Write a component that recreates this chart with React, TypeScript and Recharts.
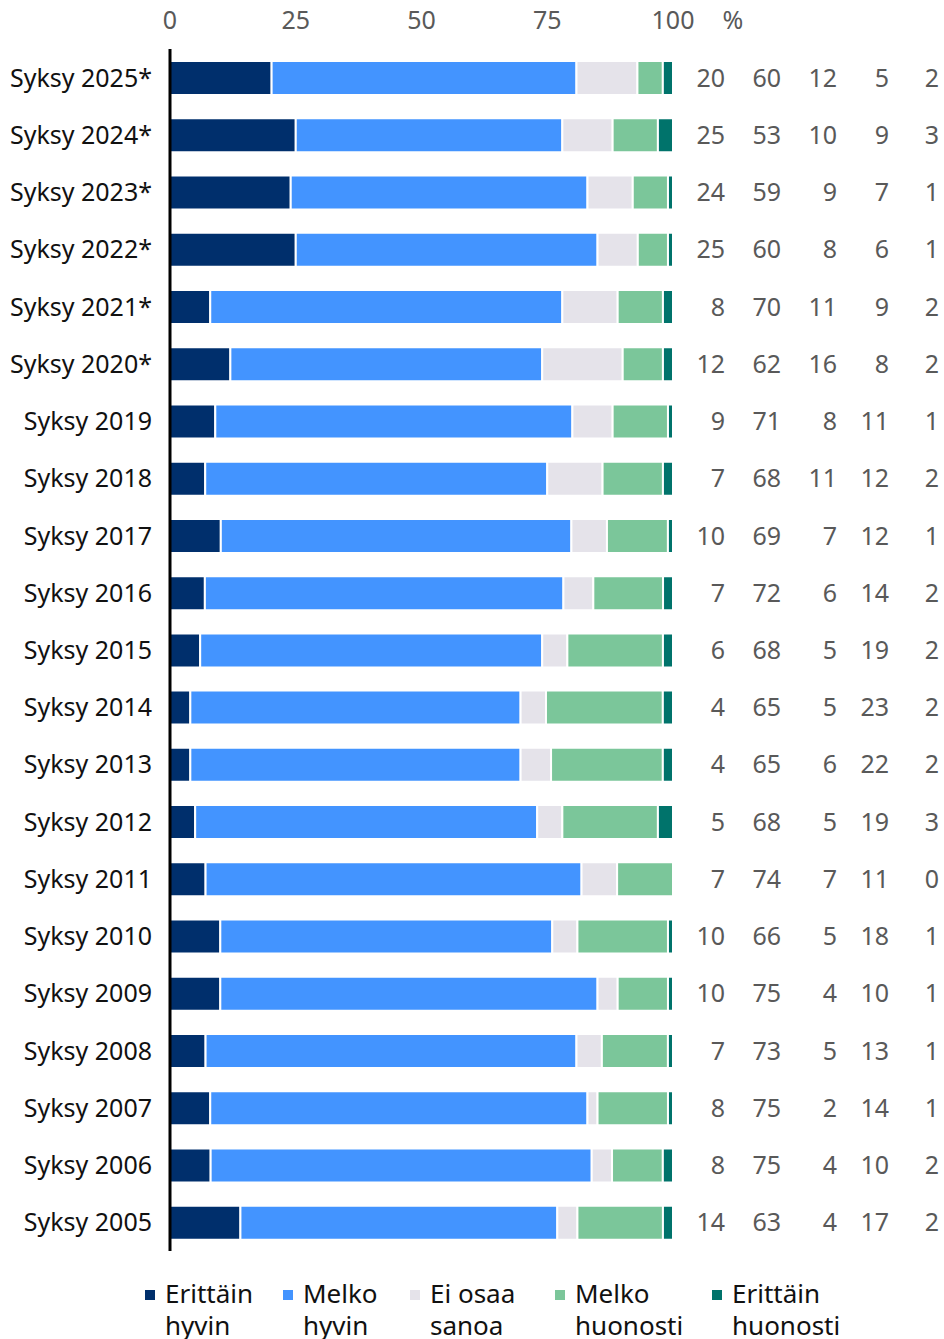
import React from "react";
import { BarChart, Bar, XAxis, YAxis, Legend } from "recharts";

const categories = [
  "Syksy 2025*",
  "Syksy 2024*",
  "Syksy 2023*",
  "Syksy 2022*",
  "Syksy 2021*",
  "Syksy 2020*",
  "Syksy 2019",
  "Syksy 2018",
  "Syksy 2017",
  "Syksy 2016",
  "Syksy 2015",
  "Syksy 2014",
  "Syksy 2013",
  "Syksy 2012",
  "Syksy 2011",
  "Syksy 2010",
  "Syksy 2009",
  "Syksy 2008",
  "Syksy 2007",
  "Syksy 2006",
  "Syksy 2005",
];

const erittainHyvin = [20, 25, 24, 25, 8, 12, 9, 7, 10, 7, 6, 4, 4, 5, 7, 10, 10, 7, 8, 8, 14];
const melkoHyvin = [60, 53, 59, 60, 70, 62, 71, 68, 69, 72, 68, 65, 65, 68, 74, 66, 75, 73, 75, 75, 63];
const eiOsaaSanoa = [12, 10, 9, 8, 11, 16, 8, 11, 7, 6, 5, 5, 6, 5, 7, 5, 4, 5, 2, 4, 4];
const melkoHuonosti = [5, 9, 7, 6, 9, 8, 11, 12, 12, 14, 19, 23, 22, 19, 11, 18, 10, 13, 14, 10, 17];
const erittainHuonosti = [2, 3, 1, 1, 2, 2, 1, 2, 1, 2, 2, 2, 2, 3, 0, 1, 1, 1, 1, 2, 2];

const xTicks = [0, 0.25, 0.5, 0.75, 1];
const xTickLabels = ["0", "25", "50", "75", "100"];

const series = [
  { key: "eh", label: ["Erittäin", "hyvin"], color: "#002f6c", values: erittainHyvin },
  { key: "mh", label: ["Melko", "hyvin"], color: "#4394ff", values: melkoHyvin },
  { key: "eos", label: ["Ei osaa", "sanoa"], color: "#e5e3ea", values: eiOsaaSanoa },
  { key: "mhu", label: ["Melko", "huonosti"], color: "#7bc69a", values: melkoHuonosti },
  { key: "ehu", label: ["Erittäin", "huonosti"], color: "#00736b", values: erittainHuonosti },
];

const data = categories.map((name, i) => {
  const row: Record<string, any> = { name };
  series.forEach((s) => {
    row[s.key] = s.values[i];
  });
  return row;
});

const FONT = '"Noto Sans", sans-serif';
const valueColumnsRight = [725, 781, 837, 889, 939];
const legendX = [145, 283, 410, 555, 712];

const XTick = ({ x, payload }: any) => {
  const idx = xTicks.indexOf(payload.value);
  return (
    <g>
      <text x={x} y={29} textAnchor="middle" fill="#595959" fontSize={25} fontFamily={FONT}>
        {xTickLabels[idx]}
      </text>
      {payload.value === 1 && (
        <text x={x + 60} y={29} textAnchor="middle" fill="#595959" fontSize={25} fontFamily={FONT}>
          %
        </text>
      )}
    </g>
  );
};

const YTick = ({ y, payload }: any) => {
  const row = data.find((r) => r.name === payload.value);
  return (
    <g>
      <text x={152} y={y + 9} textAnchor="end" fill="#111" fontSize={25} fontFamily={FONT}>
        {payload.value}
      </text>
      {row &&
        series.map((s, i) => (
          <text
            key={s.key}
            x={valueColumnsRight[i]}
            y={y + 9}
            textAnchor="end"
            fill="#595959"
            fontSize={25}
            fontFamily={FONT}
          >
            {row[s.key]}
          </text>
        ))}
    </g>
  );
};

const LegendContent = () => (
  <div style={{ position: "relative", width: 944, height: 62, fontFamily: FONT }}>
    {series.map((s, i) => (
      <div key={s.key} style={{ position: "absolute", left: legendX[i], top: 0 }}>
        <div
          style={{
            position: "absolute",
            left: 0,
            top: 13,
            width: 10,
            height: 10,
            background: s.color,
          }}
        />
        <div
          style={{
            position: "absolute",
            left: 20,
            top: 0,
            fontSize: 26,
            lineHeight: "32px",
            color: "#111",
            whiteSpace: "nowrap",
          }}
        >
          {s.label[0]}
          <br />
          {s.label[1]}
        </div>
      </div>
    ))}
  </div>
);

export default function App() {
  return (
    <div style={{ position: "absolute", left: 0, top: 0, width: 944, height: 1339, background: "#fff" }}>
      <BarChart
        width={944}
        height={1339}
        data={data}
        layout="vertical"
        stackOffset="expand"
        barCategoryGap={0}
        margin={{ top: 19, right: 271, bottom: 88, left: 0 }}
      >
        <XAxis
          type="number"
          orientation="top"
          domain={[0, 1]}
          ticks={xTicks}
          height={30}
          axisLine={false}
          tickLine={false}
          tick={<XTick />}
        />
        <YAxis
          type="category"
          dataKey="name"
          width={170}
          axisLine={{ stroke: "#000", strokeWidth: 3 }}
          tickLine={false}
          tick={<YTick />}
          interval={0}
        />
        <Legend
          layout="horizontal"
          verticalAlign="middle"
          align="center"
          content={<LegendContent />}
          wrapperStyle={{ top: 1277, left: 0, width: 944 }}
        />
        {series.map((s) => (
          <Bar
            key={s.key}
            dataKey={s.key}
            stackId="a"
            fill={s.color}
            stroke="#fff"
            strokeWidth={2}
            barSize={34}
            isAnimationActive={false}
          />
        ))}
      </BarChart>
    </div>
  );
}
